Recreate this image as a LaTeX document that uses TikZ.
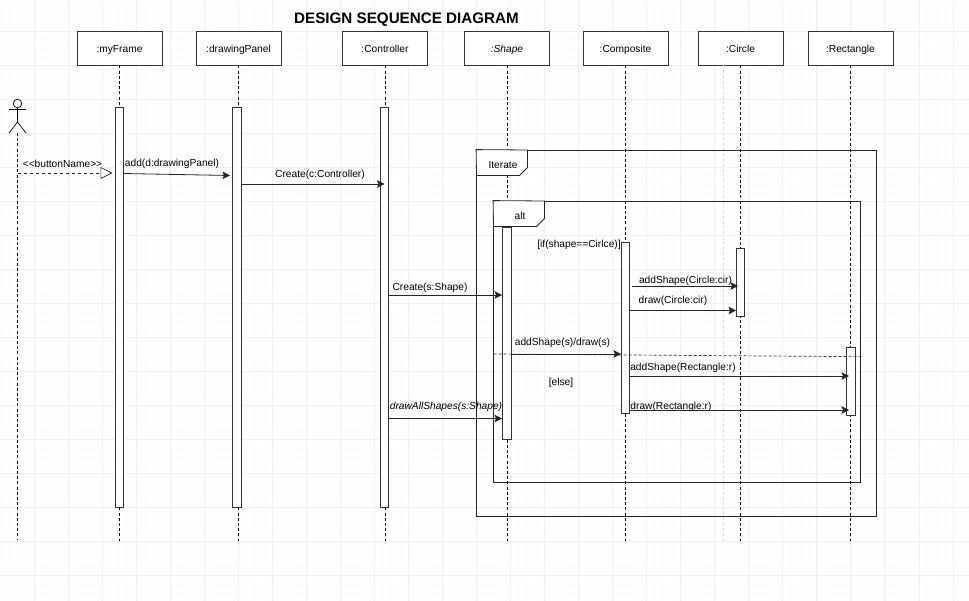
\documentclass[tikz,border=0pt]{standalone}
\usepackage{fontspec}
\setmainfont{Liberation Sans}
\usetikzlibrary{arrows.meta,positioning}
\tikzset{
  headbox/.style={rectangle, draw=black!80, fill=white, line width=0.9pt, minimum width=85pt, minimum height=34pt, inner sep=0pt, text height=10pt, text depth=0pt, font=\fontsize{10.2}{12}\selectfont},
  activation/.style={rectangle, draw=black!80, fill=white, line width=0.9pt, minimum width=8.5pt, inner sep=0pt},
  lifeline/.style={dash pattern=on 3pt off 2.2pt, line width=0.7pt, black},
  fainttrace/.style={dash pattern=on 3pt off 2.2pt, line width=0.9pt, gray!25},
  frameline/.style={draw=black!85, line width=0.8pt},
  frametab/.style={draw=black!85, fill=white, line width=0.8pt},
  msg/.style={-{Stealth[length=7.5pt,width=7.5pt,inset=1.5pt]}, line width=0.8pt, black!85},
  signal/.style={-{Triangle[open,length=12pt,width=12pt,fill=white]}, dash pattern=on 3.5pt off 2.5pt, line width=0.7pt, black!85},
  msglabel/.style={inner sep=0pt, yshift=-1pt, font=\fontsize{10.2}{12}\selectfont},
  majorgrid/.style={gray!12, line width=0.6pt},
  minorgrid/.style={gray!4, line width=0.5pt}
}

\begin{document}
\begin{tikzpicture}[x=1pt,y=-1pt]
  \useasboundingbox (0,0) rectangle (969,601);
  % page grid
  \foreach \k in {0,...,113} \draw[minorgrid] ({\k*8.508},0)--({\k*8.508},601);
  \foreach \k in {0,...,70} \draw[minorgrid] (0,{\k*8.508+5.5})--(969,{\k*8.508+5.5});
  \foreach \k in {1,...,28} \draw[majorgrid] ({\k*34.03},0)--({\k*34.03},601);
  \foreach \k in {0,...,16} \draw[majorgrid] (0,{\k*34.03+31})--(969,{\k*34.03+31});

  \node[font=\bfseries\fontsize{15.2}{18}\selectfont, inner sep=0pt] (title) at (406.5,20) {DESIGN SEQUENCE DIAGRAM};

  % objects
  \node[headbox] (myFrame) at (119.5,48) {:myFrame};
  \node[headbox] (drawingPanel) at (238.5,48) {:drawingPanel};
  \node[headbox] (controller) at (385,48) {:Controller};
  \node[headbox, font=\itshape\fontsize{10.2}{12}\selectfont] (shape) at (507,48) {:Shape};
  \node[headbox] (composite) at (625.5,48) {:Composite};
  \node[headbox] (circle) at (740.5,48) {:Circle};
  \node[headbox] (rectangle) at (850.5,48) {:Rectangle};

  % lifeline ends
  \coordinate (myFrameEnd) at (119.5,541);
  \coordinate (drawingPanelEnd) at (238.5,541);
  \coordinate (controllerEnd) at (385,541);
  \coordinate (shapeEnd) at (507,541);
  \coordinate (compositeEnd) at (625.5,541);
  \coordinate (circleEnd) at (740.5,541);
  \coordinate (rectangleEnd) at (850.5,541);
  \coordinate (traceTop) at (723,65);
  \coordinate (traceEnd) at (723,541);
  \draw[fainttrace] (traceTop)--(traceEnd);
  \foreach \n in {myFrame,drawingPanel,controller,shape,composite,circle,rectangle}
    \draw[lifeline] (\n)--(\n End);

  % actor
  \node[circle, draw=black, line width=0.7pt, fill=white, minimum size=8.5pt, inner sep=0pt] (head) at (17.5,103.5) {};
  \coordinate (armL) at (9,109.5);
  \coordinate (armR) at (26,109.5);
  \coordinate (hip) at (17.5,122);
  \coordinate (legL) at (9,133);
  \coordinate (legR) at (26,133);
  \coordinate (actorEnd) at (17.5,539);
  \draw[line width=0.7pt] (head)--(hip) (armL)--(armR) (legL)--(hip)--(legR);
  \draw[lifeline] (hip |- legL)--(actorEnd);

  % activations
  \node[activation, minimum height=399.5pt] (actFrame) at (119.5,307.5) {};
  \node[activation, minimum height=399.5pt] (actPanel) at (237,307.5) {};
  \node[activation, minimum height=399.5pt] (actController) at (384.5,307.5) {};
  \node[activation, minimum height=212pt] (actShape) at (507,333) {};
  \node[activation, minimum height=170.5pt] (actComposite) at (625.3,328.2) {};
  \node[activation, minimum height=68pt] (actCircle) at (740.2,282) {};
  \node[activation, minimum height=68pt] (actRectangle) at (850.8,381) {};

  % frames
  \node[frameline, rectangle, inner sep=0pt, minimum width=399.5pt, minimum height=366pt] (iterateFrame) at (676.25,333) {};
  \node[frameline, rectangle, inner sep=0pt, minimum width=366.5pt, minimum height=281pt] (altFrame) at (676.75,341.5) {};
  \draw[frametab] (iterateFrame.north west)--(527.5,150)--(527.5,167.5)--(519.5,175.5)--(476.5,175.5)--cycle;
  \draw[frametab] (altFrame.north west)--(544.5,201)--(544.5,218.5)--(536.5,226.5)--(493.5,226.5)--cycle;
  \node[msglabel] (iterateLabel) at (503,164) {Iterate};
  \node[msglabel] (altLabel) at (520,215) {alt};
  \coordinate (elseL) at (493.5,354);
  \coordinate (elseR) at (862,356.7);
  \draw[densely dashed, line width=0.7pt, black!80] (elseL)--(elseR);

  % message ends
  \coordinate (btnS) at (17.5,173);
  \coordinate (btnE) at (112.5,173);
  \coordinate (addS) at (123.5,173.5);
  \coordinate (addE) at (230,175.5);
  \coordinate (createCS) at (241.5,184);
  \coordinate (createCE) at (384.5,184);
  \coordinate (createSS) at (388.5,295);
  \coordinate (createSE) at (502,295);
  \coordinate (allS) at (388.5,418.5);
  \coordinate (allE) at (502,418.5);
  \coordinate (addSS) at (511,354);
  \coordinate (addSE) at (621,354);
  \coordinate (addCS) at (632,286);
  \coordinate (addCE) at (738,286);
  \coordinate (drawCS) at (630,310.5);
  \coordinate (drawCE) at (736,310.5);
  \coordinate (addRS) at (629.5,376);
  \coordinate (addRE) at (849,376);
  \coordinate (drawRS) at (629.5,410);
  \coordinate (drawRE) at (849,410);

  % messages
  \draw[signal] (btnS)--(btnE);
  \draw[msg] (addS)--(addE);
  \draw[msg] (createCS)--(createCE);
  \draw[msg] (createSS)--(createSE);
  \draw[msg] (allS)--(allE);
  \draw[msg] (addSS)--(addSE);
  \draw[msg] (addCS)--(addCE);
  \draw[msg] (drawCS)--(drawCE);
  \draw[msg] (addRS)--(addRE);
  \draw[msg] (drawRS)--(drawRE);

  % labels
  \node[msglabel] (btnLabel) at (62.5,162.5) {<{}<buttonName>{}>};
  \node[msglabel] (addLabel) at (172,162.5) {add(d:drawingPanel)};
  \node[msglabel] (createCLabel) at (320,173.5) {Create(c:Controller)};
  \node[msglabel] (createSLabel) at (430,286.5) {Create(s:Shape)};
  \node[msglabel, font=\itshape\fontsize{10.2}{12}\selectfont] (allLabel) at (446,405.5) {drawAllShapes(s:Shape)};
  \node[msglabel] (ifLabel) at (579,243.5) {[if(shape==Cirlce)]};
  \node[msglabel] (addCLabel) at (685.5,280) {addShape(Circle:cir)};
  \node[msglabel] (drawCLabel) at (673,299.5) {draw(Circle:cir)};
  \node[msglabel] (addSLabel) at (562.5,341.5) {addShape(s)/draw(s)};
  \node[msglabel] (addRLabel) at (683,367) {addShape(Rectangle:r)};
  \node[msglabel] (elseLabel) at (561,381.5) {[else]};
  \node[msglabel] (drawRLabel) at (671,405.5) {draw(Rectangle:r)};
\end{tikzpicture}
\end{document}
